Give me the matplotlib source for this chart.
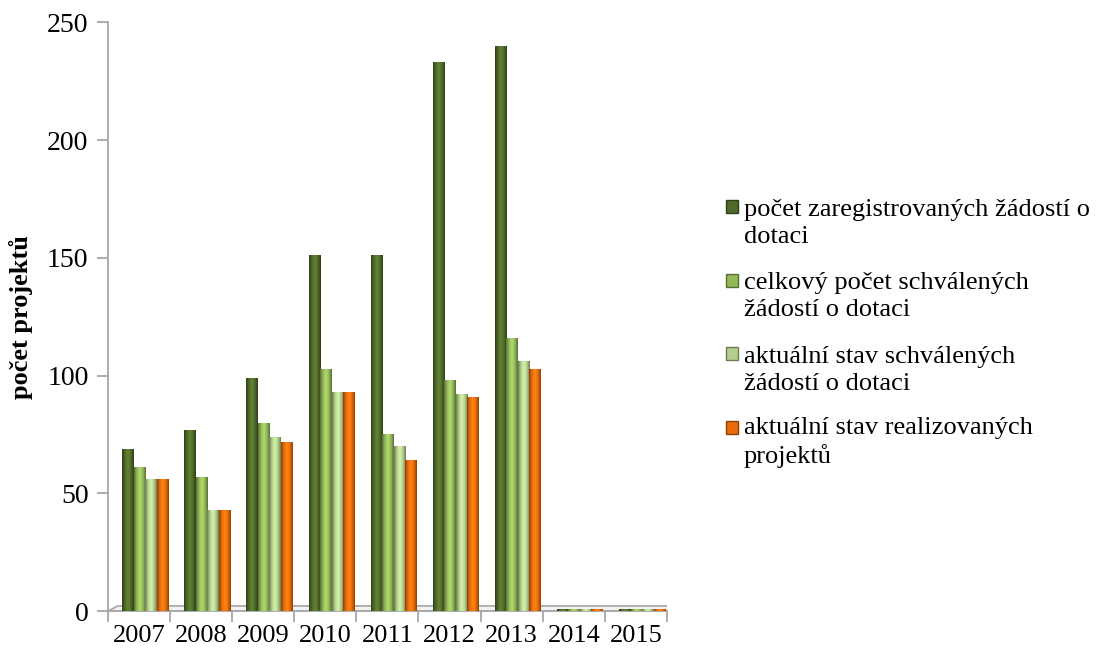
import numpy as np
import matplotlib
matplotlib.use("Agg")
import matplotlib.pyplot as plt
from matplotlib.colors import LinearSegmentedColormap, to_rgb
from matplotlib.patches import Rectangle

plt.rcParams['font.family'] = ['Liberation Serif', 'DejaVu Serif']

# data
years = ['2007', '2008', '2009', '2010', '2011', '2012', '2013', '2014', '2015']
registered = [69, 77, 99, 151, 151, 233, 240, 0, 0]
approved_total = [61, 57, 80, 103, 75, 98, 116, 0, 0]
approved_now = [56, 43, 74, 93, 70, 92, 106, 0, 0]
realized_now = [56, 43, 72, 93, 64, 91, 103, 0, 0]
series_names = ['počet zaregistrovaných žádostí o\ndotaci',
                'celkový počet schválených\nžádostí o dotaci',
                'aktuální stav schválených\nžádostí o dotaci',
                'aktuální stav realizovaných\nprojektů']
colors = ['#4f6a28', '#93b858', '#b4cf8d', '#ea6c0a']

series = [registered, approved_total, approved_now, realized_now]

W, H = 1096, 655
fig = plt.figure(figsize=(W / 100, H / 100), dpi=100)
ax = fig.add_axes([0.0985, 0.067, 0.51, 0.899])

x = np.arange(len(years))
w = 0.185
shift = 0.1


def shade(c):
    r, g, b = to_rgb(c)
    dark = (r * 0.6, g * 0.6, b * 0.6)
    light = tuple(min(1, v * 1.12 + 0.05) for v in (r, g, b))
    return LinearSegmentedColormap.from_list('s', [dark, c, light, c, dark])


for i, (vals, col) in enumerate(zip(series, colors)):
    pos = x - 1.5 * w + i * w + shift
    bars = ax.bar(pos, vals, width=w, color=col, zorder=3)
    grad = np.linspace(0, 1, 64).reshape(1, -1)
    for b in bars:
        h = b.get_height()
        if h <= 0:
            h = 0.8
        im = ax.imshow(grad, cmap=shade(col), aspect='auto', zorder=4,
                       extent=(b.get_x(), b.get_x() + b.get_width(), 0, h))
        b.set_height(h)
        im.set_clip_path(b)

# floor of the 3D look
ax.fill([-0.5, 8.5, 8.68, -0.34], [0, 0, 2.2, 2.2], color='#f2f2f2',
        edgecolor='#a6a6a6', lw=1.2, zorder=1)

ax.set_xlim(-0.5, 8.5)
ax.set_ylim(0, 250)
ax.set_yticks([0, 50, 100, 150, 200, 250])
ax.set_xticks(x)
ax.set_xticklabels(years)
ax.set_xticks(np.arange(-0.5, 9, 1), minor=True)
ax.tick_params(axis='x', which='major', length=0, labelsize=19, pad=10)
ax.tick_params(axis='x', which='minor', length=8, color='#a6a6a6', width=1.3)
ax.tick_params(axis='y', length=8, color='#a6a6a6', width=1.3, labelsize=20,
               pad=6)
for s in ['top', 'right']:
    ax.spines[s].set_visible(False)
for s in ['left', 'bottom']:
    ax.spines[s].set_color('#a6a6a6')
    ax.spines[s].set_linewidth(1.3)
ax.set_ylabel('počet projektů', fontsize=19, fontweight='bold', labelpad=10)

# legend: square marker next to the first line of each entry
for i, (name, col) in enumerate(zip(series_names, colors)):
    base = 215 + i * 73.5
    fig.patches.append(Rectangle((726 / W, 1 - (base - 2) / H), 12 / W, 13 / H,
                                 transform=fig.transFigure, facecolor=col,
                                 edgecolor=shade(col)(0.0), lw=1))
    # baseline alignment of multi-line text refers to the last line
    fig.text(744 / W, 1 - (base + 28) / H, name, fontsize=19, va='baseline',
             ha='left', linespacing=1.3)

fig.savefig('out.png', dpi=100)
